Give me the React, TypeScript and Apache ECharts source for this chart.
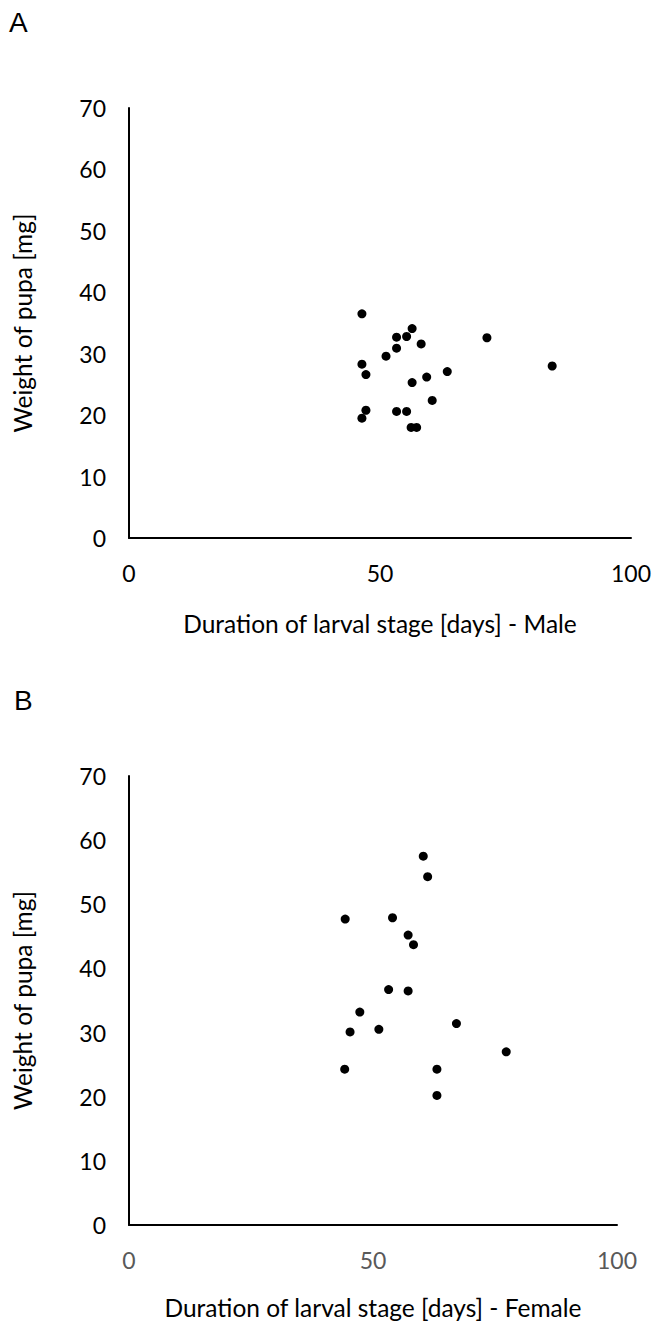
import React, { useEffect, useRef } from "react";
import * as echarts from "echarts";

// Panel A – males: [duration of larval stage (days), pupal weight (mg)]
const maleDuration = [46.4, 56.4, 53.3, 55.3, 71.3, 58.2, 53.3, 51.2, 46.4, 47.2, 63.4, 59.3, 56.4, 60.4, 47.2, 46.4, 53.3, 55.3, 56.2, 57.3, 84.3];
const maleWeight = [36.5, 34.1, 32.7, 32.8, 32.6, 31.6, 30.9, 29.6, 28.3, 26.6, 27.1, 26.2, 25.3, 22.4, 20.8, 19.5, 20.6, 20.6, 18.0, 18.0, 28.0];

// Panel B – females
const femaleDuration = [60.3, 61.2, 44.3, 54.0, 57.2, 58.3, 53.2, 57.2, 47.3, 45.3, 51.2, 67.1, 77.3, 44.2, 63.1, 63.1];
const femaleWeight = [57.5, 54.3, 47.7, 47.9, 45.2, 43.7, 36.7, 36.5, 33.2, 30.1, 30.5, 31.4, 27.0, 24.3, 24.3, 20.2];

const xTicks = [0, 50, 100];
const yTicks = [0, 10, 20, 30, 40, 50, 60, 70];

const panelLetters = ["A", "B"];
const xTitles = ["Duration of larval stage [days] - Male", "Duration of larval stage [days] - Female"];
const yTitle = "Weight of pupa [mg]";

const FONT = "Lato";

function pairs(xs: number[], ys: number[]) {
  return xs.map((x, i) => [x, ys[i]]);
}

export default function App() {
  const ref = useRef<HTMLDivElement>(null);

  useEffect(() => {
    if (!ref.current) return;
    const chart = echarts.init(ref.current, null, { renderer: "svg" });

    const axisLine = { show: true, lineStyle: { color: "#000", width: 2 } };

    const makeX = (gridIndex: number, labelColor: string, gap: number) => ({
      type: "value",
      gridIndex,
      min: xTicks[0],
      max: xTicks[xTicks.length - 1],
      interval: xTicks[1] - xTicks[0],
      axisLine,
      axisTick: { show: false },
      splitLine: { show: false },
      axisLabel: { color: labelColor, fontFamily: FONT, fontSize: 23, margin: 23 },
      name: xTitles[gridIndex],
      nameLocation: "middle",
      nameGap: gap,
      nameTextStyle: { color: "#000", fontFamily: FONT, fontSize: 24.5 },
    });

    const makeY = (gridIndex: number) => ({
      type: "value",
      gridIndex,
      min: yTicks[0],
      max: yTicks[yTicks.length - 1],
      interval: yTicks[1] - yTicks[0],
      axisLine,
      axisTick: { show: false },
      splitLine: { show: false },
      axisLabel: { color: "#000", fontFamily: FONT, fontSize: 23, margin: 23 },
      name: yTitle,
      nameLocation: "middle",
      nameGap: 94,
      nameTextStyle: { color: "#000", fontFamily: FONT, fontSize: 24.5 },
    });

    const dot = { symbol: "circle", symbolSize: 9, itemStyle: { color: "#000", opacity: 1 } };

    chart.setOption({
      animation: false,
      backgroundColor: "#fff",
      grid: [
        { left: 129, top: 108, width: 502, height: 430 },
        { left: 129, top: 776, width: 488, height: 449 },
      ],
      xAxis: [makeX(0, "#000", 73), makeX(1, "#595959", 70)],
      yAxis: [makeY(0), makeY(1)],
      graphic: [
        { type: "text", left: 9, top: 8, style: { text: panelLetters[0], fontFamily: "Liberation Sans", fontSize: 28, fill: "#000" } },
        { type: "text", left: 14, top: 686, style: { text: panelLetters[1], fontFamily: "Liberation Sans", fontSize: 28, fill: "#000" } },
      ],
      series: [
        { type: "scatter", xAxisIndex: 0, yAxisIndex: 0, data: pairs(maleDuration, maleWeight), ...dot },
        { type: "scatter", xAxisIndex: 1, yAxisIndex: 1, data: pairs(femaleDuration, femaleWeight), ...dot },
      ],
    });

    return () => chart.dispose();
  }, []);

  return (
    <div
      ref={ref}
      style={{ position: "absolute", left: 0, top: 0, width: 655, height: 1322 }}
    />
  );
}
